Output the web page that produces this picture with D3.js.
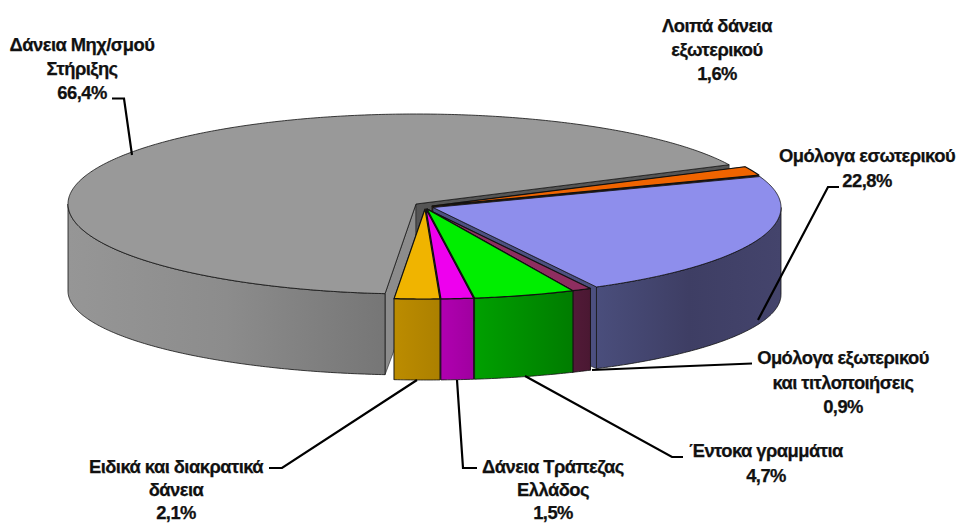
<!DOCTYPE html>
<html>
<head>
<meta charset="utf-8">
<script src="https://cdn.jsdelivr.net/npm/d3@7"></script>
<style>
  html, body { margin: 0; background: #fff; }
  text { font-family: "Liberation Sans", Arial, sans-serif; font-weight: bold; font-size: 18.4px; letter-spacing: -0.55px; fill: #111; stroke: #111; stroke-width: 0.25px; text-anchor: middle; }
</style>
</head>
<body>
<div class="chart"></div>
<script>
// slices, in drawing order (clockwise from the front of the pie)
const names = ["Δάνεια Μηχ/σμού Στήριξης", "Λοιπά δάνεια εξωτερικού", "Ομόλογα εσωτερικού",
    "Ομόλογα εξωτερικού και τιτλοποιήσεις", "Έντοκα γραμμάτια", "Δάνεια Τράπεζας Ελλάδος", "Ειδικά και διακρατικά δάνεια"];
const values = [66.4, 1.6, 22.8, 0.9, 4.7, 1.5, 2.1];
const valueLabels = ["66,4%", "1,6%", "22,8%", "0,9%", "4,7%", "1,5%", "2,1%"];

const width = 960;
const height = 523;

//ellipse of the top face, and the thickness of the pie
const rx = 348, ry = 90, depth = 87, bottomRy = 84;

//each slice is pulled out a bit, so each one has its own apex
const apex = [[416, 204], [432, 206], [433, 207.5], [427, 209], [427, 209], [426, 209], [425, 209]];
const topColor = ["#999999", "#f06400", "#8e8eec", "#8e2e60", "#00ee00", "#ee00ee", "#f0b400"];
//side colours: left to right shading
const sideColor = [["#969696", "#8c8c8c", "#767676"], ["#7a3300", "#7a3300"], ["#4a4e7c", "#3e3e64", "#44446c"], ["#521a38", "#4a1832"],
    ["#00a000", "#007c00"], ["#b000b0", "#a000a0"], ["#bc8c00", "#ac8000"]];
const wallColor = ["#8c8c8c", "#3a2010", "#4c5080", "#4a1832", "#006000", "#700070", "#806000"];
const endWallColor = ["#555555", "#2a1808", "#4c5080", "#4a1832", "#006000", "#700070", "#806000"];

//label layout: centre x, first baseline, line step, lines of text
const labelLayout = [
    { x: 82, y: 50.5, step: 24, lines: ["Δάνεια Μηχ/σμού", "Στήριξης"] },
    { x: 717, y: 32, step: 24, lines: ["Λοιπά δάνεια", "εξωτερικού"] },
    { x: 867, y: 162, step: 25, lines: ["Ομόλογα εσωτερικού"] },
    { x: 843, y: 364, step: 24.5, lines: ["Ομόλογα εξωτερικού", "και τιτλοποιήσεις"] },
    { x: 766, y: 457, step: 25, lines: ["Έντοκα γραμμάτια"] },
    { x: 553, y: 473, step: 23, lines: ["Δάνεια Τράπεζας", "Ελλάδος"] },
    { x: 176, y: 473, step: 23, lines: ["Ειδικά και διακρατικά", "δάνεια"] }
];
//leader lines
const leaders = [
    [[112, 98.5], [124, 98.5], [132, 155]],
    null,
    [[839, 187], [828, 187], [758, 320]],
    [[752, 363.5], [640, 368], [592, 370]],
    [[683, 457], [672, 457], [525, 376]],
    [[477, 468], [463, 468], [457, 380]],
    [[269, 468], [282, 468], [417, 380]]
];

const svg = d3.select(".chart")
    .append("svg")
    .attr("width", width)
    .attr("height", height)
    .style("display", "block");

const defs = svg.append("defs");

//d3.pie works with the angle clockwise from the x axis here
const start = 95.1 * Math.PI / 180;
const pie = d3.pie().sort(null).startAngle(start).endAngle(start + 2 * Math.PI);
const arcs = pie(values);

const line = d3.line();

function topPoint(i, t) {
    return [apex[i][0] + rx * Math.cos(t), apex[i][1] + ry * Math.sin(t)];
}
function bottomPoint(i, t) {
    return [apex[i][0] + rx * Math.cos(t), apex[i][1] + depth + bottomRy * Math.sin(t)];
}
function samples(a, b) {
    const n = Math.max(2, Math.ceil(Math.abs(b - a) / 0.01));
    return d3.range(n + 1).map(k => a + (b - a) * k / n);
}

//the part of [a, b] that faces the viewer (sin > 0)
function frontRanges(a, b) {
    const out = [];
    for (let k = 0; k < 2; k++) {
        const lo = Math.max(a, k * 2 * Math.PI);
        const hi = Math.min(b, k * 2 * Math.PI + Math.PI);
        if (hi > lo) out.push([lo, hi]);
    }
    return out;
}

function wall(g, i, t, fill) {
    const p = [[apex[i][0], apex[i][1]], topPoint(i, t), bottomPoint(i, t), [apex[i][0], apex[i][1] + depth]];
    g.append("path")
        .attr("d", line(p) + "Z")
        .attr("fill", fill)
        .attr("stroke", "#222")
        .attr("stroke-width", 0.6)
        .attr("stroke-linejoin", "round");
}

arcs.forEach((d, i) => {
    const g = svg.append("g").attr("class", "slice");
    wall(g, i, d.startAngle, wallColor[i]);
    wall(g, i, d.endAngle, endWallColor[i]);

    frontRanges(d.startAngle, d.endAngle).forEach(([a, b], k) => {
        const ts = samples(a, b);
        const x1 = apex[i][0] + rx * Math.cos(a), x2 = apex[i][0] + rx * Math.cos(b);
        const id = "side" + i + "_" + k;
        const grad = defs.append("linearGradient").attr("id", id)
            .attr("gradientUnits", "userSpaceOnUse")
            .attr("x1", Math.min(x1, x2)).attr("x2", Math.max(x1, x2)).attr("y1", 0).attr("y2", 0);
        sideColor[i].forEach((c, j) => {
            grad.append("stop").attr("offset", j / (sideColor[i].length - 1)).attr("stop-color", c);
        });
        const pts = ts.map(t => topPoint(i, t)).concat(ts.slice().reverse().map(t => bottomPoint(i, t)));
        g.append("path")
            .attr("d", line(pts) + "Z")
            .attr("fill", "url(#" + id + ")")
            .attr("stroke", "#111")
            .attr("stroke-width", 0.8)
            .attr("stroke-linejoin", "round");
    });

    const pts = [apex[i]].concat(samples(d.startAngle, d.endAngle).map(t => topPoint(i, t)));
    g.append("path")
        .attr("d", line(pts) + "Z")
        .attr("fill", topColor[i])
        .attr("stroke", "#111")
        .attr("stroke-width", i === 0 || i === 2 ? 0.8 : 1.2)
        .attr("stroke-linejoin", "round");
});

//leader lines
svg.selectAll("path.leader")
    .data(leaders.filter(d => d))
    .enter()
    .append("path")
    .attr("class", "leader")
    .attr("d", d => line(d))
    .attr("fill", "none")
    .attr("stroke", "#000")
    .attr("stroke-width", 2.2);

//labels: name lines then the value
labelLayout.forEach((l, i) => {
    const rows = l.lines.concat([valueLabels[i]]);
    svg.selectAll(null)
        .data(rows)
        .enter()
        .append("text")
        .attr("x", l.x)
        .attr("y", (d, k) => l.y + k * l.step)
        .text(d => d);
});
</script>
</body>
</html>
